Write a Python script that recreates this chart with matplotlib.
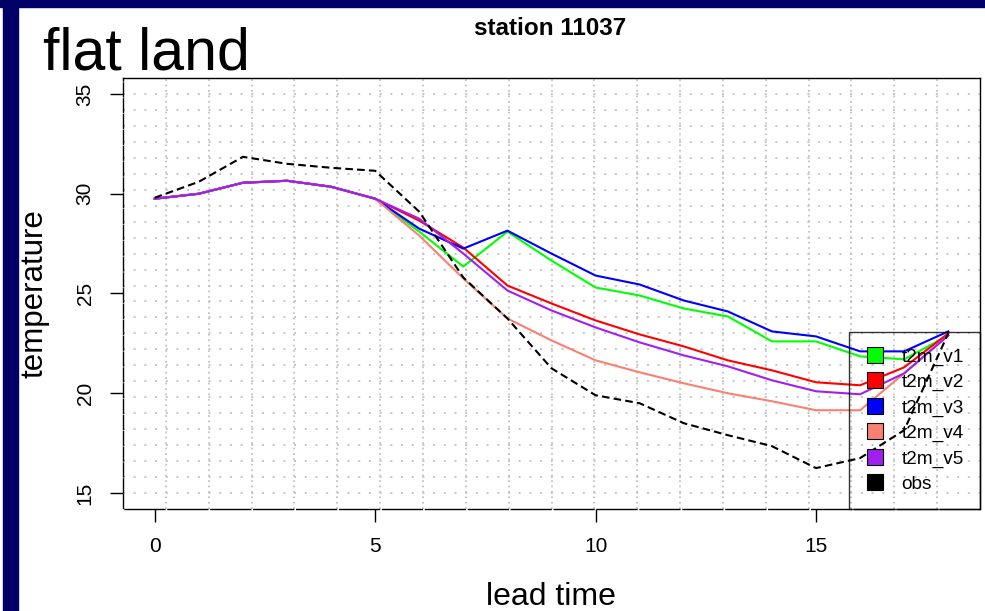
import matplotlib
matplotlib.use('Agg')
import matplotlib.pyplot as plt
from matplotlib.lines import Line2D
from matplotlib.patches import Rectangle
import numpy as np

plt.rcParams['font.family'] = ['Liberation Sans', 'DejaVu Sans']
plt.rcParams['lines.scale_dashes'] = False

# forecast lead times and temperatures at station 11037
lead = list(range(19))
t2m_v1 = [29.75, 30.0, 30.55, 30.65, 30.35, 29.75, 28.1, 26.35, 28.1, 26.65, 25.3,
          24.9, 24.25, 23.85, 22.6, 22.6, 21.85, 21.7, 22.9]
t2m_v2 = [29.75, 30.0, 30.55, 30.65, 30.35, 29.75, 28.65, 27.3, 25.4, 24.5, 23.65,
          22.95, 22.35, 21.65, 21.15, 20.55, 20.4, 21.3, 23.0]
t2m_v3 = [29.75, 30.0, 30.55, 30.65, 30.35, 29.75, 28.25, 27.25, 28.15, 27.0, 25.9,
          25.45, 24.65, 24.1, 23.1, 22.85, 22.1, 22.1, 23.1]
t2m_v4 = [29.75, 30.0, 30.55, 30.65, 30.35, 29.75, 27.9, 25.75, 23.75, 22.65, 21.65,
          21.05, 20.5, 20.0, 19.6, 19.15, 19.15, 21.0, 22.9]
t2m_v5 = [29.75, 30.0, 30.55, 30.65, 30.35, 29.75, 28.75, 27.0, 25.15, 24.15, 23.3,
          22.55, 21.9, 21.35, 20.65, 20.1, 19.95, 21.0, 22.9]
obs = [29.8, 30.6, 31.85, 31.5, 31.3, 31.15, 29.1, 25.8, 23.75, 21.25, 19.9,
       19.5, 18.5, 17.9, 17.35, 16.25, 16.75, 18.15, 23.0]

names = ['t2m_v1', 't2m_v2', 't2m_v3', 't2m_v4', 't2m_v5', 'obs']
colors = ['#00ff00', '#ff0000', '#0000ff', '#fa8072', '#a020f0', '#000000']
x_ticks = [0, 5, 10, 15]
y_ticks = [15, 20, 25, 30, 35]

W, H = 985, 611
fig = plt.figure(figsize=(W / 100, H / 100), dpi=100)

# slide frame
navy = '#000066'
fig.patches.append(Rectangle((0, 1 - 7 / H), 1, 7 / H, transform=fig.transFigure,
                             color=navy, zorder=0))
fig.patches.append(Rectangle((3 / W, 0), 15 / W, 1, transform=fig.transFigure,
                             color=navy, zorder=0))

ax = fig.add_axes([123 / W, 102 / H, 857 / W, 431 / H])
xlo, xhi = -0.72, 18.72
ylo, yhi = 14.2, 35.8
ax.set_xlim(xlo, xhi)
ax.set_ylim(ylo, yhi)

# dotted grid, 20 x 27 cells across the plot region
grid_col = '#c4c4c4'
for gx in np.linspace(xlo, xhi, 21)[1:-1]:
    ax.axvline(gx, color=grid_col, lw=1.3, linestyle=(0, (1.3, 2.6)), zorder=1)
for gy in np.linspace(ylo, yhi, 28)[1:-1]:
    ax.axhline(gy, color=grid_col, lw=1.4, linestyle=(0, (1.4, 6.3)), zorder=1)

series = [t2m_v1, t2m_v2, t2m_v3, t2m_v4, t2m_v5]
for vals, c in zip(series, colors[:5]):
    ax.plot(lead, vals, color=c, lw=1.5, zorder=3)
ax.plot(lead, obs, color='black', lw=1.5, linestyle=(0, (5.5, 3.0)), zorder=4)

ax.set_xticks(x_ticks)
ax.set_yticks(y_ticks)
ax.tick_params(direction='out', length=9.4, width=1, labelsize=15, pad=11)
narrow = ['Liberation Sans Narrow', 'Liberation Sans', 'DejaVu Sans']
for lab in ax.get_xticklabels():
    lab.set_family(narrow)
for lab in ax.get_yticklabels():
    lab.set_family(narrow)
    lab.set_rotation(90)
    lab.set_va('center')

for side in ['left', 'bottom', 'top', 'right']:
    ax.spines[side].set_linewidth(1.0)
ax.spines['bottom'].set_linestyle((28.7 + 1.1, (28.7, 2.2)))
ax.spines['left'].set_linestyle((10.0 + 0.7, (10.0, 1.4)))

handles = [Line2D([], [], marker='s', linestyle='none', markersize=11,
                  markerfacecolor=c, markeredgecolor='black', markeredgewidth=0.8)
           for c in colors]
leg = ax.legend(handles, names, loc='lower right', bbox_to_anchor=(1, 0),
                borderaxespad=0, fontsize=13.7, fancybox=False,
                facecolor='none', edgecolor='black', borderpad=0.85,
                labelspacing=0.42, handlelength=1.0, handletextpad=0.9)
leg.get_frame().set_linewidth(1.0)
leg.set_zorder(5)

fig.text(43 / W, 1 - 70 / H, 'flat land', fontsize=42.5, va='baseline', ha='left')
fig.text(550 / W, 1 - 35 / H, 'station 11037', fontsize=17.5, fontweight='bold',
         ha='center', va='baseline')
fig.text(551 / W, 1 - 605 / H, 'lead time', fontsize=23, ha='center', va='baseline')
fig.text(35 / W, 1 - 294 / H, 'temperature', fontsize=22.5, rotation=90,
         ha='center', va='center')

fig.savefig('out.png', dpi=100)
